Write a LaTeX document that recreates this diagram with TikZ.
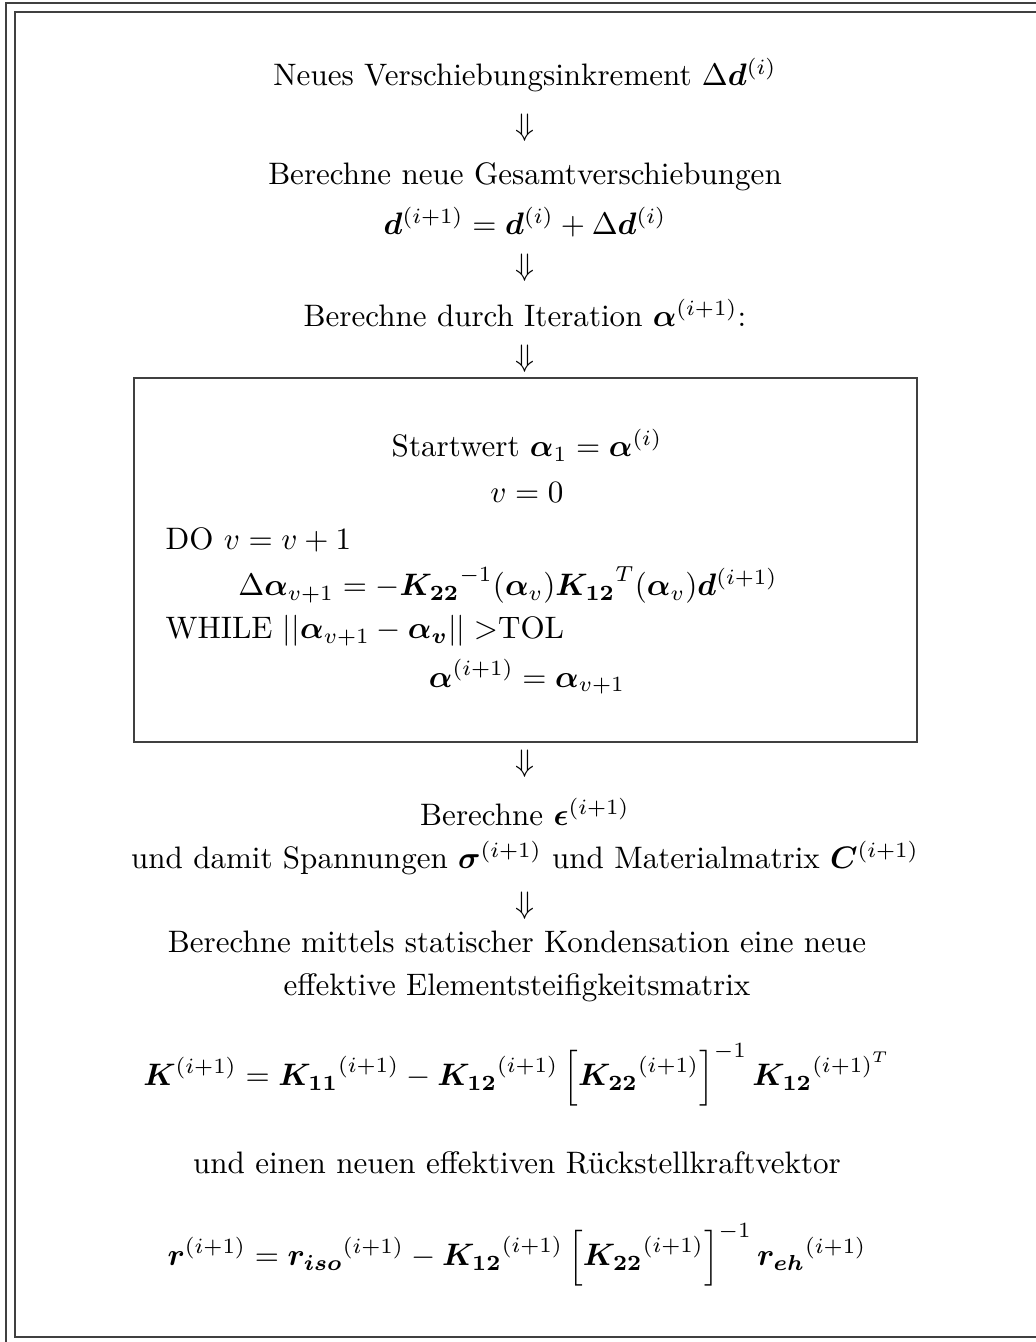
\documentclass[tikz,border=0pt]{standalone}
\usepackage{amsmath}
\usepackage{bm}
\tikzset{
  frameline/.style={line width=0.45pt, draw=black!75},
  txt/.style={inner sep=0pt, anchor=center},
  txtl/.style={inner sep=0pt, anchor=west},
  darrow/.style={inner sep=0pt, anchor=center}
}
\begin{document}
\begin{tikzpicture}[x=0.322pt,y=-0.322pt]
\useasboundingbox (0,0) rectangle (1036,1342);
% page frames
\coordinate (o1) at (6,1342);
\coordinate (o2) at (6,3);
\coordinate (o3) at (1036,3);
\draw[frameline] (o1) -- (o2) -- (o3);
\coordinate (i1) at (1036,1337);
\coordinate (i2) at (15,1337);
\coordinate (i3) at (15,12);
\coordinate (i4) at (1036,12);
\draw[frameline] (i1) -- (i2) -- (i3) -- (i4);
% texts
\node[txt] (t1) at (525,75) {Neues Verschiebungsinkrement $\Delta\bm{d}^{(i)}$};
\node[darrow] (a1) at (525,128) {$\Downarrow$};
\node[txt] (t2) at (525,177) {Berechne neue Gesamtverschiebungen};
\node[txt] (t3) at (525,222) {${\bm{d}}^{(i+1)} = {\bm{d}}^{(i)} + \Delta{\bm{d}}^{(i)}$};
\node[darrow] (a2) at (525,268) {$\Downarrow$};
\node[txt] (t4) at (525,313) {Berechne durch Iteration ${\bm{\alpha}}^{(i+1)}$:};
\node[darrow] (a3) at (525,359) {$\Downarrow$};
% inner box
\node[draw=black!75, line width=0.45pt, minimum width=783*0.322pt, minimum height=364*0.322pt, inner sep=0pt] (box) at (525.5,560) {};
\node[txt] (b1) at (527,445) {Startwert $\boldsymbol{\alpha}\mathrm{_1} = {\bm{\alpha}}^{(i)}$};
\node[txt] (b2) at (527,492) {$v = 0$};
\node[txtl] (b3) at (165,540) {DO $v = v + 1$};
\node[txt] (b4) at (508,585) {$\Delta{\bm{\alpha}}_{v+1} = -{\bm{K_{22}}}^{-1}({\bm{\alpha}}_v){\bm{K_{12}}}^{T}({\bm{\alpha}}_v){\bm{d}}^{(i+1)}$};
\node[txtl] (b5) at (165,631) {WHILE $||{\bm{\alpha}}_{v+1} - \bm{\alpha_v}|| >$TOL};
\node[txt] (b6) at (527,677) {${\bm{\alpha}}^{(i+1)} = {\bm{\alpha}}_{v+1}$};
\node[darrow] (a4) at (525,764) {$\Downarrow$};
\node[txt] (t5) at (525,812) {Berechne ${\bm{\epsilon}}^{(i+1)}$};
\node[txt] (t6) at (525,858) {und damit Spannungen ${\bm{\sigma}}^{(i+1)}$ und Materialmatrix ${\bm{C}}^{(i+1)}$};
\node[darrow] (a5) at (525,906) {$\Downarrow$};
\node[txt] (t7) at (517,942) {Berechne mittels statischer Kondensation eine neue};
\node[txt] (t8) at (517,988) {effektive Elementsteifigkeitsmatrix};
\node[txt] (t9) at (517,1075) {$\displaystyle {\bm{K}}^{(i+1)} = {\bm{K_{11}}}^{(i+1)} - {\bm{K_{12}}}^{(i+1)}\left[{\bm{K_{22}}}^{(i+1)}\right]^{-1}{\bm{K_{12}}}^{{(i+1)}^{T}}$};
\node[txt] (t10) at (517,1163) {und einen neuen effektiven Rückstellkraftvektor};
\node[txt] (t11) at (517,1255) {$\displaystyle {\bm{r}}^{(i+1)} = {\bm{r_{iso}}}^{(i+1)} - {\bm{K_{12}}}^{(i+1)}\left[{\bm{K_{22}}}^{(i+1)}\right]^{-1}{\bm{r_{eh}}}^{(i+1)}$};
\end{tikzpicture}
\end{document}
